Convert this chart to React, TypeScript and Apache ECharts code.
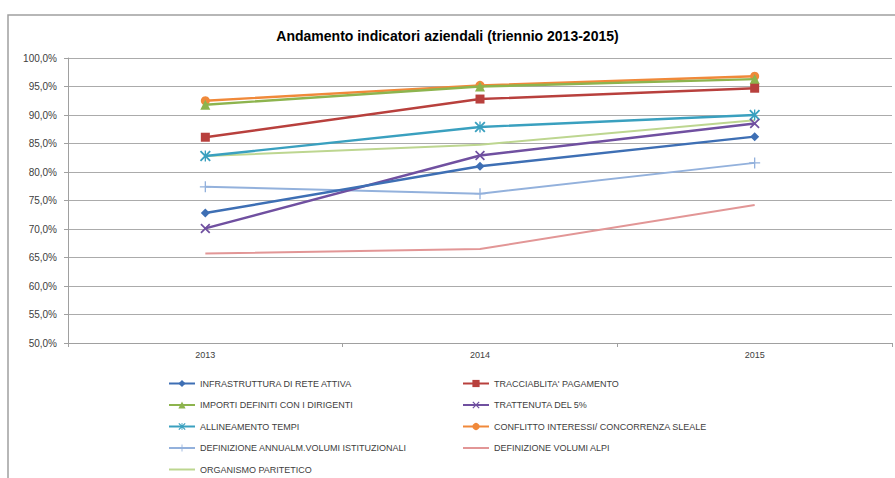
import React, { useEffect, useRef } from "react";
import * as echarts from "echarts";

const categories = ["2013", "2014", "2015"];
const seriesNames = [
  "INFRASTRUTTURA DI RETE ATTIVA",
  "TRACCIABLITA' PAGAMENTO",
  "IMPORTI DEFINITI CON I DIRIGENTI",
  "TRATTENUTA DEL 5%",
  "ALLINEAMENTO TEMPI",
  "CONFLITTO INTERESSI/ CONCORRENZA SLEALE",
  "DEFINIZIONE ANNUALM.VOLUMI ISTITUZIONALI",
  "DEFINIZIONE VOLUMI ALPI",
  "ORGANISMO PARITETICO",
];
const infrastruttura = [72.8, 81.0, 86.2];
const tracciabilita = [86.1, 92.8, 94.7];
const importi = [91.8, 95.0, 96.3];
const trattenuta = [70.1, 82.9, 88.5];
const allineamento = [82.8, 87.9, 90.0];
const conflitto = [92.5, 95.2, 96.8];
const definizioneAnnualm = [77.4, 76.2, 81.6];
const definizioneAlpi = [65.7, 66.5, 74.2];
const organismo = [82.8, 84.8, 89.1];
const yTicks = [50, 55, 60, 65, 70, 75, 80, 85, 90, 95, 100];

const seriesValues = [
  infrastruttura,
  tracciabilita,
  importi,
  trattenuta,
  allineamento,
  conflitto,
  definizioneAnnualm,
  definizioneAlpi,
  organismo,
];

const X_PATH =
  "path://M0,1.2 L1.2,0 L5,3.8 L8.8,0 L10,1.2 L6.2,5 L10,8.8 L8.8,10 L5,6.2 L1.2,10 L0,8.8 L3.8,5 Z";
const STAR_PATH =
  "path://M0,1.2 L1.2,0 L5,3.8 L8.8,0 L10,1.2 L6.2,5 L10,8.8 L8.8,10 L5,6.2 L1.2,10 L0,8.8 L3.8,5 Z M4.4,0 L5.6,0 L5.6,10 L4.4,10 Z";
const PLUS_PATH =
  "path://M4.4,0 L5.6,0 L5.6,4.4 L10,4.4 L10,5.6 L5.6,5.6 L5.6,10 L4.4,10 L4.4,5.6 L0,5.6 L0,4.4 L4.4,4.4 Z";
const LINE_ICON = "path://M0,0 L26,0 L26,2 L0,2 Z";

const colors = [
  "#3E6FB4",
  "#B8403D",
  "#8DB44E",
  "#7050A0",
  "#3AA0BF",
  "#F0893A",
  "#93B1DC",
  "#E29696",
  "#BDD690",
];
const symbols = ["diamond", "rect", "triangle", X_PATH, STAR_PATH, "circle", PLUS_PATH, "none", "none"];
const symbolSizes = [9, 9, 10, 10, 11, 9, 11, 0, 0];

const legendItem = (i: number) =>
  symbols[i] === "none" ? { name: seriesNames[i], icon: LINE_ICON } : { name: seriesNames[i] };

export default function App() {
  const ref = useRef<HTMLDivElement>(null);
  useEffect(() => {
    document.body.style.margin = "0";
    const chart = echarts.init(ref.current!, undefined, { renderer: "svg" });
    const legendText = { fontSize: 9, color: "#404040", fontFamily: "Liberation Sans" };
    chart.setOption({
      animation: false,
      backgroundColor: "#ffffff",
      title: {
        text: "Andamento indicatori aziendali (triennio 2013-2015)",
        left: "center",
        top: 24,
        textStyle: { fontSize: 14, fontWeight: "bold", color: "#000", fontFamily: "Liberation Sans" },
      },
      graphic: [
        {
          type: "rect",
          shape: { x: 8, y: 15, width: 1000, height: 1000 },
          style: { fill: "none", stroke: "#A0A0A0", lineWidth: 1.5 },
          silent: true,
        },
      ],
      grid: { left: 68, right: 3, top: 58, bottom: 135 },
      xAxis: {
        type: "category",
        data: categories,
        boundaryGap: true,
        axisLine: { lineStyle: { color: "#A0A0A0", width: 1 } },
        axisTick: { show: true, length: 4, lineStyle: { color: "#A0A0A0" } },
        axisLabel: { fontSize: 9, color: "#404040", margin: 7, fontFamily: "Liberation Sans" },
      },
      yAxis: {
        type: "value",
        min: yTicks[0],
        max: yTicks[yTicks.length - 1],
        interval: 5,
        axisLine: { show: true, lineStyle: { color: "#A0A0A0", width: 1 } },
        axisTick: { show: true, length: 4, lineStyle: { color: "#A0A0A0" } },
        axisLabel: {
          fontSize: 10,
          color: "#404040",
          margin: 11,
          fontFamily: "Liberation Sans",
          formatter: (v: number) => v.toFixed(1).replace(".", ",") + "%",
        },
        splitLine: { lineStyle: { color: "#ABABAB", width: 1.2 } },
      },
      legend: [
        {
          orient: "vertical",
          left: 163,
          top: 374,
          height: 110,
          padding: 5,
          itemWidth: 26,
          itemHeight: 9,
          itemGap: 12.5,
          textStyle: legendText,
          data: [0, 2, 4, 6, 8].map(legendItem),
        },
        {
          orient: "vertical",
          left: 457,
          top: 374,
          height: 110,
          padding: 5,
          itemWidth: 26,
          itemHeight: 9,
          itemGap: 12.5,
          textStyle: legendText,
          data: [1, 3, 5, 7].map(legendItem),
        },
      ],
      series: seriesNames.map((name, i) => ({
        name,
        type: "line",
        data: seriesValues[i],
        symbol: symbols[i],
        symbolSize: symbolSizes[i],
        showSymbol: symbols[i] !== "none",
        color: colors[i],
        lineStyle: { color: colors[i], width: i >= 6 ? 2 : 2.4 },
        itemStyle: { color: colors[i] },
        z: 10 - i,
      })),
    });
    return () => chart.dispose();
  }, []);
  return <div ref={ref} style={{ width: 895, height: 478 }} />;
}
